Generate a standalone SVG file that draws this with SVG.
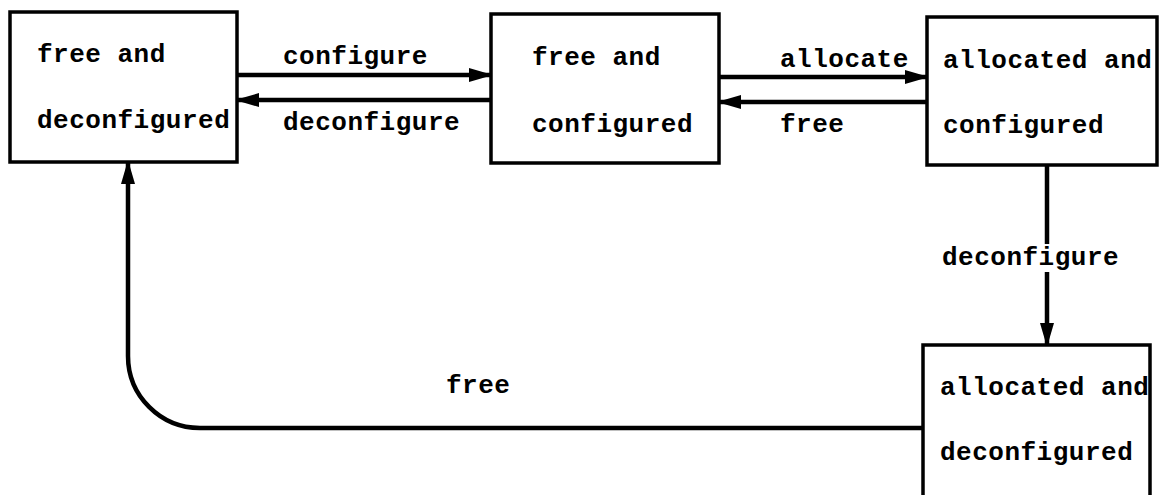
<svg xmlns="http://www.w3.org/2000/svg" width="1159" height="495" viewBox="0 0 1159 495">
<defs>
<marker id="ah" markerUnits="userSpaceOnUse" markerWidth="24" markerHeight="16" refX="22" refY="8" orient="auto">
<path d="M0,1 L24,8 L0,15 z" fill="#000"/>
</marker>
<style>
.box{fill:#fff;stroke:#000;stroke-width:3.5}
.ln{fill:none;stroke:#000;stroke-width:4.5}
.t{font-family:"Liberation Mono",monospace;font-weight:bold;font-size:26px;letter-spacing:0.5px;fill:#000}
</style>
</defs>
<rect width="1159" height="495" fill="#fff"/>
<g id="connectors">
<line class="ln" x1="237" y1="75" x2="491" y2="75" marker-end="url(#ah)"/>
<line class="ln" x1="491" y1="100" x2="237" y2="100" marker-end="url(#ah)"/>
<line class="ln" x1="719" y1="77" x2="927" y2="77" marker-end="url(#ah)"/>
<line class="ln" x1="927" y1="102" x2="719" y2="102" marker-end="url(#ah)"/>
<line class="ln" x1="1047" y1="165" x2="1047" y2="244"/>
<line class="ln" x1="1047" y1="272" x2="1047" y2="345" marker-end="url(#ah)"/>
<path class="ln" d="M922 428 H200 A72 72 0 0 1 128 356 V162" marker-end="url(#ah)"/>
<text class="t" x="283" y="64">configure</text>
<text class="t" x="283" y="130">deconfigure</text>
<text class="t" x="780" y="67">allocate</text>
<text class="t" x="780" y="132">free</text>
<text class="t" x="942" y="265">deconfigure</text>
<text class="t" x="446" y="393">free</text>
</g>
<g id="free-deconfigured">
<rect class="box" x="10" y="12" width="227" height="150"/>
<text class="t" x="37" y="62">free and</text>
<text class="t" x="37" y="128">deconfigured</text>
</g>
<g id="free-configured">
<rect class="box" x="491" y="14" width="228" height="149"/>
<text class="t" x="532" y="65">free and</text>
<text class="t" x="532" y="132">configured</text>
</g>
<g id="allocated-configured">
<rect class="box" x="927" y="17" width="230" height="148"/>
<text class="t" x="943" y="68">allocated and</text>
<text class="t" x="943" y="133">configured</text>
</g>
<g id="allocated-deconfigured">
<rect class="box" x="923" y="345" width="227" height="170"/>
<text class="t" x="940" y="395">allocated and</text>
<text class="t" x="940" y="460">deconfigured</text>
</g>
</svg>
